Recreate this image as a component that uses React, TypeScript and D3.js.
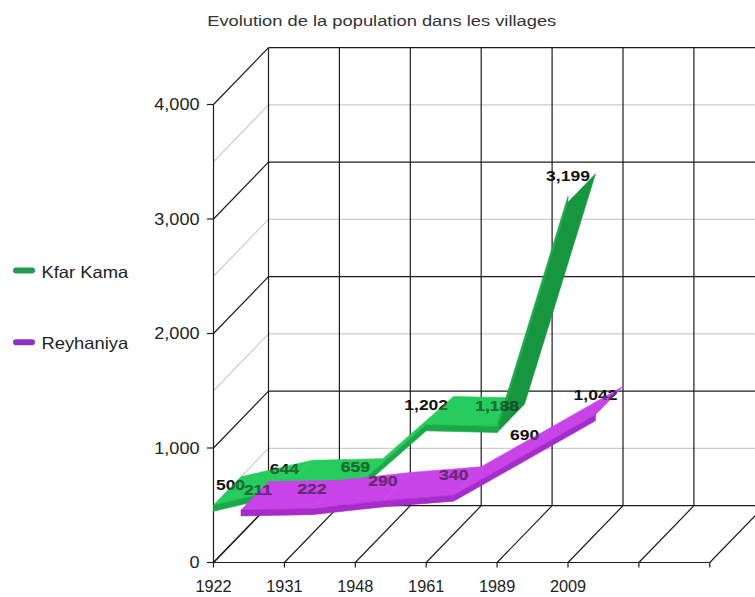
import React from "react";
import * as d3 from "d3";

// ---------- data ----------
const chartTitle = "Evolution de la population dans les villages";
const years = ["1922", "1931", "1948", "1961", "1989", "2009"];
const slotCount = 8; // tick slots on the category axis (last two unlabeled)
const seriesNames = ["Kfar Kama", "Reyhaniya"];
const kfarKama = [500, 644, 659, 1202, 1188, 3199];
const reyhaniya = [211, 222, 290, 340, 690, 1042];
const yMajorTicks = [0, 1000, 2000, 3000, 4000];
const yMinorTicks = [500, 1500, 2500, 3500];

// ---------- layout / style ----------
const W = 755;
const H = 597;
const DX = 55; // depth offset of the back wall
const DY = -56.8;
const T = 6; // ribbon thickness
const FONT = "'Liberation Sans', Arial, Helvetica, sans-serif";
const DARK = "#1c1c1c";
const GREY = "#cdcdcd";
const edgeLabelShift = 17;

const styles = [
  { top: "#27cd5c", under: "#17963f", front: "#1aa849", legend: "#259a55", z: [0, 0.5] },
  { top: "#c844e8", under: "#9322b8", front: "#a52ccb", legend: "#8d34c4", z: [0.5, 1] },
];

const x = d3.scaleLinear().domain([0, slotCount - 1]).range([213.5, 709.8]);
const y = d3.scaleLinear().domain([0, 4000]).range([562.5, 104.5]);
const fmt = d3.format(",");

type Pt = [number, number];
const P = (i: number, v: number, z: number): Pt => [x(i) + z * DX, y(v) + z * DY];
const pts = (a: Pt[]) => a.map((p) => `${p[0].toFixed(2)},${p[1].toFixed(2)}`).join(" ");

function Ribbon({ values, st }: { values: number[]; st: (typeof styles)[number] }) {
  const [z1, z2] = st.z;
  const faces: React.ReactNode[] = [];
  for (let k = 0; k < values.length - 1; k++) {
    const A = P(k, values[k], z1);
    const B = P(k + 1, values[k + 1], z1);
    const B2 = P(k + 1, values[k + 1], z2);
    const A2 = P(k, values[k], z2);
    const ddx = DX * (z2 - z1);
    const ddy = DY * (z2 - z1);
    const cross = (B[0] - A[0]) * ddy - (B[1] - A[1]) * ddx;
    const topVisible = cross < 0;
    const sh = (p: Pt, s: number): Pt => [p[0], p[1] + s];
    if (topVisible) {
      faces.push(
        <polygon key={`f${k}`} points={pts([A, B, B2, A2])} fill={st.top} stroke={st.top} strokeWidth={0.6} />
      );
    } else {
      faces.push(
        <polygon
          key={`f${k}`}
          points={pts([sh(A, T), sh(B, T), sh(B2, T), sh(A2, T)])}
          fill={st.under}
          stroke={st.under}
          strokeWidth={0.6}
        />
      );
    }
    faces.push(
      <polygon
        key={`fr${k}`}
        points={pts([A, B, sh(B, T), sh(A, T)])}
        fill={st.front}
        stroke={st.front}
        strokeWidth={0.6}
      />
    );
  }
  return <g>{faces}</g>;
}

const allSeries = [kfarKama, reyhaniya];

function DataLabels() {
  return (
    <>
      {allSeries.map((vals, s) =>
        vals.map((v, i) => {
          const [px, py] = P(i, v, styles[s].z[0]);
          const lx = px + (i === 0 ? edgeLabelShift : 0);
          return (
            <text
              key={`l${s}-${i}`}
              transform={`translate(${lx.toFixed(2)},${(py - 15).toFixed(2)}) scale(1.13,1)`}
              textAnchor="middle"
              fontFamily={FONT}
              fontWeight="bold"
              fontSize={15.5}
              fill="#111"
            >
              {fmt(v)}
            </text>
          );
        })
      )}
    </>
  );
}

export default function App() {
  const slots = d3.range(slotCount);
  const backRight = x(slotCount - 1) + DX;
  return (
    <svg
      width={W}
      height={H}
      viewBox={`0 0 ${W} ${H}`}
      style={{ position: "fixed", left: 0, top: 0, background: "#fff" }}
    >
      <rect x={0} y={0} width={W} height={H} fill="#fff" />
      <defs>
        <clipPath id="labelClip">
          <DataLabels />
        </clipPath>
      </defs>

      {/* back wall minor horizontals */}
      {yMinorTicks.map((t) => (
        <line key={`bm${t}`} x1={x(0) + DX} x2={backRight} y1={y(t) + DY} y2={y(t) + DY} stroke={GREY} strokeWidth={1.2} />
      ))}
      {/* left wall minor diagonals */}
      {yMinorTicks.map((t) => (
        <line key={`lm${t}`} x1={x(0)} x2={x(0) + DX} y1={y(t)} y2={y(t) + DY} stroke={GREY} strokeWidth={1.2} />
      ))}
      {/* back wall major horizontals */}
      {yMajorTicks.map((t) => (
        <line key={`bM${t}`} x1={x(0) + DX} x2={backRight} y1={y(t) + DY} y2={y(t) + DY} stroke={DARK} strokeWidth={1.2} />
      ))}
      {/* back wall verticals */}
      {slots.map((i) => (
        <line key={`bv${i}`} x1={x(i) + DX} x2={x(i) + DX} y1={y(0) + DY} y2={y(4000) + DY} stroke={DARK} strokeWidth={1.2} />
      ))}
      {/* left wall major diagonals */}
      {yMajorTicks.map((t) => (
        <line key={`lM${t}`} x1={x(0)} x2={x(0) + DX} y1={y(t)} y2={y(t) + DY} stroke={DARK} strokeWidth={1.2} />
      ))}
      {/* floor diagonals */}
      {slots.map((i) => (
        <line key={`fd${i}`} x1={x(i)} x2={x(i) + DX} y1={y(0)} y2={y(0) + DY} stroke={DARK} strokeWidth={1.2} />
      ))}
      {/* front axes */}
      <line x1={x(0)} x2={x(slotCount - 1)} y1={y(0)} y2={y(0)} stroke={DARK} strokeWidth={1.2} />
      <line x1={x(0)} x2={x(0)} y1={y(0)} y2={y(4000)} stroke={DARK} strokeWidth={1.2} />
      {yMajorTicks.map((t) => (
        <g key={`yt${t}`}>
          <line x1={x(0) - 6.5} x2={x(0)} y1={y(t)} y2={y(t)} stroke={DARK} strokeWidth={1.2} />
          <text
            transform={`translate(199.5,${(y(t) + 5.5).toFixed(2)}) scale(1.13,1)`}
            textAnchor="end"
            fontFamily={FONT}
            fontSize={16}
            fill="#222"
          >
            {fmt(t)}
          </text>
        </g>
      ))}
      {slots.map((i) => (
        <line key={`xt${i}`} x1={x(i)} x2={x(i)} y1={y(0)} y2={y(0) + 5} stroke={DARK} strokeWidth={1.2} />
      ))}
      {years.map((yr, i) => (
        <text key={`xl${i}`} x={x(i)} y={591.5} textAnchor="middle" fontFamily={FONT} fontSize={16.3} fill="#222">
          {yr}
        </text>
      ))}

      {/* ribbons */}
      {allSeries.map((vals, s) => (
        <Ribbon key={`r${s}`} values={vals} st={styles[s]} />
      ))}

      {/* data labels, tinted where they lie over a ribbon */}
      <DataLabels />
      <g clipPath="url(#labelClip)" opacity={0.5}>
        {allSeries.map((vals, s) => (
          <Ribbon key={`rc${s}`} values={vals} st={styles[s]} />
        ))}
      </g>

      {/* title */}
      <text
        transform="translate(381.7,25.5) scale(1.19,1)"
        textAnchor="middle"
        fontFamily={FONT}
        fontSize={15.4}
        fill="#333"
      >
        {chartTitle}
      </text>

      {/* legend */}
      {seriesNames.map((name, s) => {
        const ly = 270.5 + s * 71.8;
        return (
          <g key={`lg${s}`}>
            <line x1={16} x2={32} y1={ly} y2={ly} stroke={styles[s].legend} strokeWidth={6} strokeLinecap="round" />
            <text
              transform={`translate(41.5,${ly + 7}) scale(1.126,1)`}
              fontFamily={FONT}
              fontSize={16.3}
              fill="#222"
            >
              {name}
            </text>
          </g>
        );
      })}
    </svg>
  );
}
